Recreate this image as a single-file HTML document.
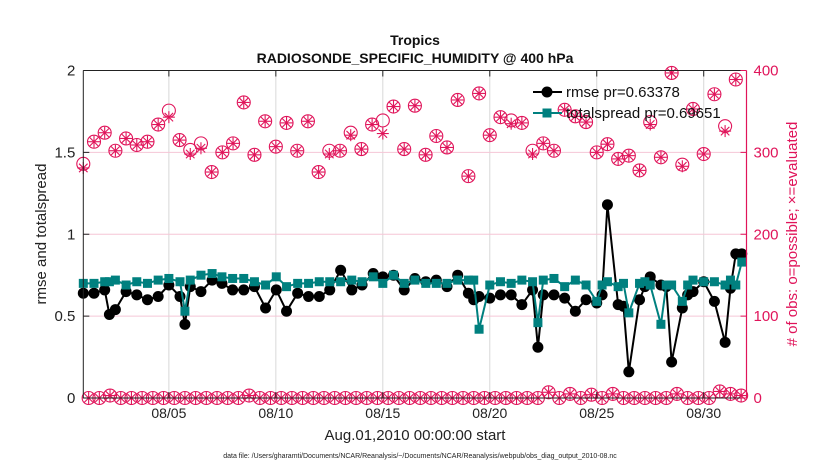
<!DOCTYPE html>
<html><head><meta charset="utf-8"><style>
body{margin:0;background:#fff;}
svg{display:block;font-family:"Liberation Sans",sans-serif;}
</style></head><body>
<svg id="chart" width="830" height="470" viewBox="0 0 830 470"></svg>
<script>
// ---- data ----
const seriesTimesPx = null;
const seriesDays = [0,0.5,1,1.22,1.5,2,2.5,3,3.5,4,4.52,4.75,5,5.5,6.02,6.48,6.98,7.5,8,8.52,9.02,9.5,10.02,10.53,11.03,11.52,12.03,12.55,13.03,13.55,14.0,14.5,15.0,15.5,16.01,16.5,17.0,17.5,18.0,18.25,18.5,19.0,19.5,20.0,20.5,21.0,21.25,21.5,22.0,22.5,23.0,23.5,24.0,24.25,24.5,25.0,25.25,25.5,26.0,26.25,26.5,27.0,27.25,27.5,28.0,28.25,28.5,29.0,29.5,30.0,30.25,30.5,30.78];
const rmseVals = [0.64,0.64,0.66,0.51,0.54,0.65,0.63,0.60,0.62,0.69,0.62,0.45,0.68,0.65,0.72,0.70,0.66,0.66,0.68,0.55,0.66,0.53,0.64,0.62,0.62,0.66,0.78,0.66,0.69,0.76,0.74,0.75,0.66,0.73,0.71,0.72,0.68,0.75,0.64,0.60,0.62,0.61,0.63,0.63,0.57,0.66,0.31,0.63,0.63,0.61,0.53,0.60,0.58,0.63,1.18,0.57,0.56,0.16,0.60,0.68,0.74,0.69,0.68,0.22,0.55,0.63,0.65,0.71,0.59,0.34,0.67,0.88,0.88];
const spreadVals = [0.70,0.70,0.71,0.71,0.72,0.69,0.71,0.70,0.72,0.73,0.71,0.53,0.72,0.75,0.76,0.74,0.73,0.73,0.71,0.69,0.74,0.68,0.70,0.70,0.71,0.71,0.71,0.72,0.71,0.74,0.70,0.75,0.70,0.72,0.70,0.70,0.70,0.72,0.72,0.72,0.42,0.69,0.71,0.70,0.72,0.71,0.46,0.72,0.73,0.68,0.72,0.69,0.59,0.69,0.71,0.68,0.70,0.52,0.70,0.71,0.69,0.45,0.69,0.69,0.59,0.69,0.72,0.71,0.71,0.69,0.72,0.69,0.83];
const possibleHigh = [286,313,324,302,317,309,313,334,351,315,303,311,276,300,311,361,297,338,307,336,302,338,276,302,302,324,304,334,339,356,304,357,297,320,306,364,271,372,321,343,339,336,302,311,302,352,344,337,300,310,292,296,278,337,294,397,285,353,298,371,332,389];
const evaluatedHigh = [281,313,324,302,317,309,313,334,343,315,298,305,276,300,311,361,297,338,307,336,302,338,276,298,302,321,304,334,323,356,304,357,297,320,306,364,271,372,321,343,335,336,298,311,302,352,344,337,300,310,292,296,278,334,294,397,283,353,298,371,326,389];
const possibleLow = [0,0,3,0,0,0,0,0,0,0,0,0,0,0,0,3,0,0,0,0,0,0,0,0,0,0,0,0,0,0,0,0,0,0,0,0,0,0,0,0,0,0,0,7,0,5,0,4,0,5,0,0,0,0,0,5,0,0,0,8,5,3];
const leftTicks = [0,0.5,1,1.5,2];
const leftTickLabels = ["0","0.5","1","1.5","2"];
const rightTicks = [0,100,200,300,400];
const xTickDays = [4,9,14,19,24,29];
const xTickLabels = ["08/05","08/10","08/15","08/20","08/25","08/30"];

// ---- axes ----
const X0=83.3, X1=746.5, Y0=398, Y1=70.5, DMAX=31;
const xs = d => X0 + d*(X1-X0)/DMAX;
const yl = v => Y0 - v*(Y0-Y1)/2;
const yr = v => Y0 - v*(Y0-Y1)/400;
const MAG="#e0145a", TEAL="#00807f";
const svg=document.getElementById('chart');
const NS="http://www.w3.org/2000/svg";
function mk(tag,attrs,parent){const e=document.createElementNS(NS,tag);for(const k in attrs)e.setAttribute(k,attrs[k]);(parent||svg).appendChild(e);return e;}

// grid
xTickDays.forEach((d,i)=>{
  const g=mk('line',{x1:xs(d),x2:xs(d),y1:Y1,y2:Y0,stroke:'#d8d8d8','stroke-width':1});
  
  
});
rightTicks.slice(1,4).forEach(v=>{
  const g=mk('line',{x1:X0,x2:X1,y1:yr(v),y2:yr(v),stroke:'#f5c6d6','stroke-width':1});
  
  
});

// obs markers
function obsMark(cx,cy,evalY,name){
  const g=mk('g',{});
  
  
  mk('circle',{cx:cx,cy:cy,r:6.5,fill:'none',stroke:MAG,'stroke-width':1.1},g);
  const r=6;
  for(let a=0;a<4;a++){const t=a*Math.PI/4;mk('line',{x1:cx-r*Math.cos(t),y1:evalY-r*Math.sin(t),x2:cx+r*Math.cos(t),y2:evalY+r*Math.sin(t),stroke:MAG,'stroke-width':1.1},g);}
}
possibleHigh.forEach((v,i)=>obsMark(xs(i*0.5),yr(v),yr(evaluatedHigh[i]),'obs-count-marker'));
possibleLow.forEach((v,i)=>obsMark(xs(0.25+i*0.5),yr(v),yr(v),'obs-count-low-marker'));

// rmse
const rp=seriesDays.map((d,i)=>xs(d)+','+yl(rmseVals[i])).join(' ');
const rl=mk('polyline',{points:rp,fill:'none',stroke:'#000','stroke-width':2});


seriesDays.forEach((d,i)=>{
  const c=mk('circle',{cx:xs(d),cy:yl(rmseVals[i]),r:5.5,fill:'#000'});
  
  
});
// spread
const sp=seriesDays.map((d,i)=>xs(d)+','+yl(spreadVals[i])).join(' ');
const sl=mk('polyline',{points:sp,fill:'none',stroke:TEAL,'stroke-width':2});


seriesDays.forEach((d,i)=>{
  const s=mk('rect',{x:xs(d)-4.5,y:yl(spreadVals[i])-4.5,width:9,height:9,fill:TEAL});
  
  
});

// axes frame
const ax=mk('g',{});


mk('line',{x1:X0,x2:X1,y1:Y1,y2:Y1,stroke:'#222','stroke-width':1},ax);
mk('line',{x1:X0,x2:X1,y1:Y0,y2:Y0,stroke:'#222','stroke-width':1},ax);
mk('line',{x1:X0,x2:X0,y1:Y1,y2:Y0,stroke:'#222','stroke-width':1},ax);
mk('line',{x1:X1,x2:X1,y1:Y1,y2:Y0,stroke:MAG,'stroke-width':1.2},ax);
leftTicks.forEach((v,i)=>{
  mk('line',{x1:X0,x2:X0+6,y1:yl(v),y2:yl(v),stroke:'#222'},ax);
  const t=mk('text',{x:X0-8,y:yl(v)+5,'text-anchor':'end','font-size':15,fill:'#222'});
  t.textContent=leftTickLabels[i];
  
  
});
rightTicks.forEach(v=>{
  mk('line',{x1:X1-6,x2:X1,y1:yr(v),y2:yr(v),stroke:MAG},ax);
  const t=mk('text',{x:X1+7,y:yr(v)+5,'font-size':15,fill:MAG});
  t.textContent=String(v);
  
  
});
xTickDays.forEach((d,i)=>{
  mk('line',{x1:xs(d),x2:xs(d),y1:Y1,y2:Y1+6,stroke:'#222'},ax);
  mk('line',{x1:xs(d),x2:xs(d),y1:Y0-6,y2:Y0,stroke:'#222'},ax);
  const t=mk('text',{x:xs(d),y:418,'text-anchor':'middle','font-size':14,fill:'#222'});
  t.textContent=xTickLabels[i];
  
  
});
</script>
<svg width="0" height="0"></svg>
<script>
const s2=document.getElementById('chart');
const NS2="http://www.w3.org/2000/svg";
function tx(x,y,str,attrs,name){const e=document.createElementNS(NS2,'text');e.setAttribute('x',x);e.setAttribute('y',y);for(const k in attrs)e.setAttribute(k,attrs[k]);e.textContent=str;


s2.appendChild(e);return e;}
tx(415,45,'Tropics',{'text-anchor':'middle','font-size':14,'font-weight':'bold',fill:'#111'},'chart-title');
tx(415,63,'RADIOSONDE_SPECIFIC_HUMIDITY @ 400 hPa',{'text-anchor':'middle','font-size':14,'font-weight':'bold',fill:'#111'},'chart-subtitle');
tx(0,0,'rmse and totalspread',{'text-anchor':'middle','font-size':15,fill:'#222',transform:'translate(46,234) rotate(-90)'},'left-axis-title');
tx(0,0,'# of obs: o=possible; \u00d7=evaluated',{'text-anchor':'middle','font-size':15,fill:'#e0145a',transform:'translate(797,234) rotate(-90)'},'right-axis-title');
tx(415,440,'Aug.01,2010 00:00:00 start',{'text-anchor':'middle','font-size':15,fill:'#222'},'x-axis-title');
tx(420,458,'data file: /Users/gharamti/Documents/NCAR/Reanalysis/~/Documents/NCAR/Reanalysis/webpub/obs_diag_output_2010-08.nc',{'text-anchor':'middle','font-size':7,fill:'#222'},'data-file-note');
// legend
const lg=document.createElementNS(NS2,'g');


s2.appendChild(lg);
function el(tag,a){const e=document.createElementNS(NS2,tag);for(const k in a)e.setAttribute(k,a[k]);lg.appendChild(e);return e;}
el('line',{x1:533,x2:562,y1:92,y2:92,stroke:'#000','stroke-width':2});
el('circle',{cx:547,cy:92,r:5.5,fill:'#000'});
el('line',{x1:533,x2:562,y1:113,y2:113,stroke:'#00807f','stroke-width':2});
el('rect',{x:542.5,y:108.5,width:9,height:9,fill:'#00807f'});
const l1=el('text',{x:566,y:97,'font-size':15,fill:'#111'});l1.textContent='rmse pr=0.63378';

const l2=el('text',{x:566,y:118,'font-size':15,fill:'#111'});l2.textContent='totalspread pr=0.69651';

</script>
</body></html>
